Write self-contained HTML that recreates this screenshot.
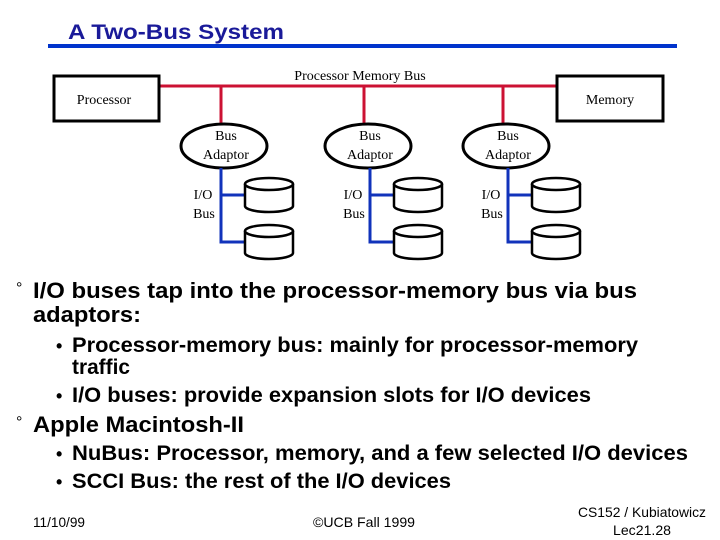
<!DOCTYPE html>
<html><head><style>body{margin:0;background:#fff}svg{display:block}</style></head><body>
<svg width="720" height="540" xmlns="http://www.w3.org/2000/svg">
<text x="68" y="39" font-family="Liberation Sans, sans-serif" font-weight="bold" font-size="21" fill="#1a1a99" textLength="216" lengthAdjust="spacingAndGlyphs">A Two-Bus System</text>
<rect x="48" y="44" width="629" height="4" fill="#0033cc"/>
<g stroke="#cc1133" stroke-width="3" fill="none">
<line x1="160" y1="86" x2="556" y2="86"/>
<line x1="221" y1="86" x2="221" y2="124"/>
<line x1="364" y1="86" x2="364" y2="124"/>
<line x1="503" y1="86" x2="503" y2="124"/>
</g>
<g stroke="#000" stroke-width="3" fill="#fff">
<rect x="54" y="76" width="105" height="45"/>
<rect x="557" y="76" width="106" height="45"/>
<ellipse cx="224" cy="146" rx="43" ry="22"/>
<ellipse cx="368" cy="146" rx="43" ry="22"/>
<ellipse cx="506" cy="146" rx="43" ry="22"/>
</g>
<g stroke="#1133bb" stroke-width="3" fill="none">
<path d="M221 168 V242 H245 M221 195 H245"/>
<path d="M370 168 V242 H394 M370 195 H394"/>
<path d="M508 168 V242 H532 M508 195 H532"/>
</g>
<g stroke="#000" stroke-width="2.5" fill="#fff">
<g id="c"><path d="M245 184 V206 A24 6 0 0 0 293 206 V184"/><ellipse cx="269" cy="184" rx="24" ry="6"/></g>
<use href="#c" y="47"/>
<use href="#c" x="149"/><use href="#c" x="149" y="47"/>
<use href="#c" x="287"/><use href="#c" x="287" y="47"/>
</g>
<g font-family="Liberation Serif, serif" font-size="14" fill="#000" text-anchor="middle">
<text x="360" y="80">Processor Memory Bus</text>
<text x="104" y="104">Processor</text>
<text x="610" y="104">Memory</text>
<text x="226" y="140">Bus</text><text x="226" y="159">Adaptor</text>
<text x="370" y="140">Bus</text><text x="370" y="159">Adaptor</text>
<text x="508" y="140">Bus</text><text x="508" y="159">Adaptor</text>
<text x="203" y="199">I/O</text><text x="204" y="218">Bus</text>
<text x="353" y="199">I/O</text><text x="354" y="218">Bus</text>
<text x="491" y="199">I/O</text><text x="492" y="218">Bus</text>
</g>
<g font-family="Liberation Sans, sans-serif" font-weight="bold" fill="#000" lengthAdjust="spacingAndGlyphs">
<text x="16" y="293" font-size="16" font-weight="normal">°</text>
<text x="33" y="298" font-size="22" textLength="604" lengthAdjust="spacingAndGlyphs">I/O buses tap into the processor-memory bus via bus</text>
<text x="33" y="322" font-size="22" textLength="108" lengthAdjust="spacingAndGlyphs">adaptors:</text>
<text x="56" y="352" font-size="18">•</text>
<text x="72" y="352" font-size="21" textLength="566" lengthAdjust="spacingAndGlyphs">Processor-memory bus: mainly for processor-memory</text>
<text x="72" y="374" font-size="21" textLength="58" lengthAdjust="spacingAndGlyphs">traffic</text>
<text x="56" y="402" font-size="18">•</text>
<text x="72" y="402" font-size="21" textLength="519" lengthAdjust="spacingAndGlyphs">I/O buses: provide expansion slots for I/O devices</text>
<text x="16" y="427" font-size="16" font-weight="normal">°</text>
<text x="33" y="432" font-size="22" textLength="211" lengthAdjust="spacingAndGlyphs">Apple Macintosh-II</text>
<text x="56" y="460" font-size="18">•</text>
<text x="72" y="460" font-size="21" textLength="616" lengthAdjust="spacingAndGlyphs">NuBus: Processor, memory, and a few selected I/O devices</text>
<text x="56" y="488" font-size="18">•</text>
<text x="72" y="488" font-size="21" textLength="379" lengthAdjust="spacingAndGlyphs">SCCI Bus: the rest of the I/O devices</text>
</g>
<g font-family="Liberation Sans, sans-serif" font-size="14" fill="#000">
<text x="33" y="527" textLength="52" lengthAdjust="spacingAndGlyphs">11/10/99</text>
<text x="313" y="527" textLength="102" lengthAdjust="spacingAndGlyphs">©UCB Fall 1999</text>
<text x="578" y="517" textLength="128" lengthAdjust="spacingAndGlyphs">CS152 / Kubiatowicz</text>
<text x="613" y="535" textLength="58" lengthAdjust="spacingAndGlyphs">Lec21.28</text>
</g>
</svg>
</body></html>
